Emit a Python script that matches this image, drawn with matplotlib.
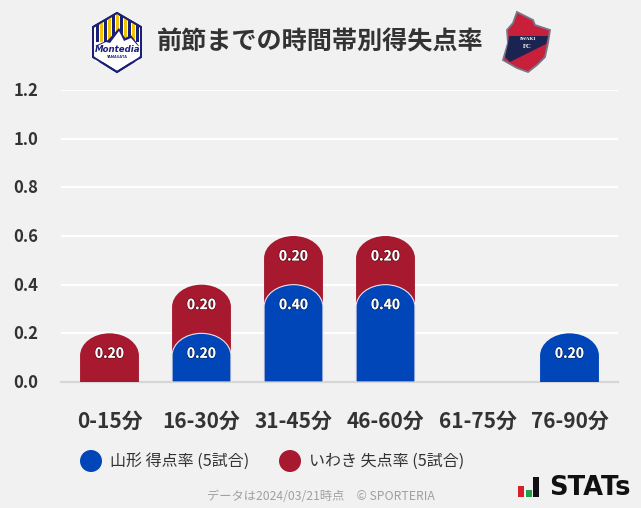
import matplotlib
matplotlib.use("Agg")
import matplotlib.pyplot as plt
import matplotlib.patheffects as pe
from matplotlib.path import Path
from matplotlib.patches import PathPatch, Polygon, Circle, Rectangle
from matplotlib.transforms import ScaledTranslation

plt.rcParams['font.family'] = ['Noto Sans CJK JP', 'DejaVu Sans']

categories = ['0-15分', '16-30分', '31-45分', '46-60分', '61-75分', '76-90分']
yamagata_rate = [0.0, 0.20, 0.40, 0.40, 0.0, 0.20]
iwaki_rate = [0.20, 0.20, 0.20, 0.20, 0.0, 0.0]
y_ticks = [0.0, 0.2, 0.4, 0.6, 0.8, 1.0, 1.2]
title = '前節までの時間帯別得失点率'
legend_labels = ['山形 得点率 (5試合)', 'いわき 失点率 (5試合)']
footer = 'データは2024/03/21時点　© SPORTERIA'

BLUE = '#0046b8'
RED = '#a6192e'
BG = '#f1f1f1'
DARK = '#333333'
W, H = 641, 508

fig = plt.figure(figsize=(W / 100, H / 100), dpi=100, facecolor=BG)
L, R, T, B = 61, 618, 90, 382
ax = fig.add_axes([L / W, 1 - B / H, (R - L) / W, (B - T) / H], facecolor=BG)
ax.set_xlim((L - 109.5) / 92, (R - 109.5) / 92)
ax.set_ylim(0, 1.2)
for s in ['top', 'left', 'right']:
    ax.spines[s].set_visible(False)
ax.spines['bottom'].set_color('#d6d6d6')
ax.spines['bottom'].set_linewidth(1.6)
ax.set_axisbelow(True)
ax.yaxis.grid(True, color='white', lw=1.6)
ax.xaxis.grid(False)
ax.set_yticks(y_ticks)
ax.set_yticklabels([f'{v:.1f}' for v in y_ticks], fontsize=12, fontweight='bold', color=DARK)
ax.set_xticks(range(len(categories)))
ax.set_xticklabels(categories, fontsize=15, fontweight='bold', color=DARK)
ax.tick_params(axis='both', length=0)
ax.tick_params(axis='y', pad=16.5)
ax.tick_params(axis='x', pad=21)
up = ScaledTranslation(0, 1 / 100, fig.dpi_scale_trans)
for t in ax.get_yticklabels():
    t.set_transform(t.get_transform() + up)


def dome(x, top, width=0.64, cap=0.092):
    """Bar from 0 to top with an elliptical rounded head."""
    hw = width / 2
    k = 0.5523
    verts = [(x - hw, 0), (x - hw, top - cap),
             (x - hw, top - cap + k * cap), (x - k * hw, top), (x, top),
             (x + k * hw, top), (x + hw, top - cap + k * cap), (x + hw, top - cap),
             (x + hw, 0), (x - hw, 0)]
    codes = [Path.MOVETO, Path.LINETO, Path.CURVE4, Path.CURVE4, Path.CURVE4,
             Path.CURVE4, Path.CURVE4, Path.CURVE4, Path.LINETO, Path.CLOSEPOLY]
    return Path(verts, codes)


shadow = [pe.withStroke(linewidth=1.2, foreground='#00000055')]
for i, (a, b) in enumerate(zip(yamagata_rate, iwaki_rate)):
    if b > 0:
        ax.add_patch(PathPatch(dome(i, a + b), fc=RED, ec='none', zorder=3))
        ax.text(i, a + b - 0.084, f'{b:.2f}', color='white', fontsize=10, fontweight='bold',
                ha='center', va='center', zorder=5, path_effects=shadow)
    if a > 0:
        ax.add_patch(PathPatch(dome(i, a), fc=BLUE,
                               ec='#e6e6ee' if b > 0 else 'none', lw=0.8, zorder=4))
        ax.text(i, a - 0.084, f'{a:.2f}', color='white', fontsize=10, fontweight='bold',
                ha='center', va='center', zorder=5, path_effects=shadow)

# overlay in pixel coordinates for title, legend, logos, footer
ov = fig.add_axes([0, 0, 1, 1], facecolor='none')
ov.set_xlim(0, W)
ov.set_ylim(H, 0)
ov.axis('off')

ov.text(320.5, 42, title, fontsize=18.1, fontweight='bold', color=DARK, ha='center', va='center')

ov.add_patch(Circle((91, 461), 11, fc=BLUE, ec='none'))
ov.add_patch(Circle((290, 461), 11, fc=RED, ec='none'))
ov.text(110, 461, legend_labels[0], fontsize=11.5, color=DARK, ha='left', va='center')
ov.text(309, 461, legend_labels[1], fontsize=11.5, color=DARK, ha='left', va='center')
ov.text(320.5, 497, footer, fontsize=8.8, color='#a0a0a0', ha='center', va='center')

# Montedio logo
NAVY = '#1a1f78'
hexa = [(117, 13), (141, 27), (141, 57), (117, 72), (93, 57), (93, 27)]
hexp = Polygon(hexa, closed=True, fc='white', ec=NAVY, lw=1.4, zorder=2)
ov.add_patch(hexp)
for k, x in enumerate(range(96, 139, 4)):
    st = Rectangle((x, 14), 3.0, 28, fc='#f2c400' if k % 2 else NAVY, ec='none', zorder=3)
    ov.add_patch(st)
    st.set_clip_path(hexp)
ov.add_patch(Polygon([(95, 46), (108, 40), (119, 28), (125, 38), (131, 35), (139, 46)],
                     closed=True, fc=NAVY, ec='none', zorder=4))
ov.add_patch(Polygon([(95, 47), (106, 42), (110, 43), (119, 31), (124, 41), (131, 38), (139, 47)],
                     closed=True, fc='white', ec='none', zorder=5))
ov.add_patch(Rectangle((95, 46), 44, 16, fc='white', ec='none', zorder=5))
ov.text(117.5, 50, 'Montedia', fontsize=6.2, style='italic', fontweight='bold', color=NAVY,
        family='DejaVu Sans', ha='center', va='center', zorder=6)
ov.text(117.5, 57, 'YAMAGATA', fontsize=2.8, fontweight='bold', color=NAVY, ha='center', va='center', zorder=6)
ov.add_patch(Polygon(hexa, closed=True, fc='none', ec=NAVY, lw=1.4, zorder=7))

# Iwaki logo
shield = [(517, 12), (525, 16), (533, 20), (535, 25), (550, 30), (548, 43), (545, 57),
          (537, 65), (528, 72), (517, 68), (503, 60), (508, 43), (507, 30), (513, 23)]
ov.add_patch(Polygon(shield, closed=True, fc='#c8203a', ec='#777788', lw=1.3, zorder=2))
ov.add_patch(Polygon([(509, 36), (548, 36), (546, 44), (510, 62), (505, 57), (508, 44)],
                     closed=True, fc='#1b2450', ec='none', zorder=3))
ov.text(528, 39.5, 'IWAKI', fontsize=3.8, fontweight='bold', family='Liberation Serif', color='white', ha='center', va='center', zorder=4)
ov.text(527, 46, 'FC', fontsize=4.8, fontweight='bold', family='Liberation Serif', color='white', ha='center', va='center', zorder=4)

# STATs logo
ov.add_patch(Rectangle((518, 486), 6, 11, fc='#d8202a', ec='none'))
ov.add_patch(Rectangle((526, 490), 6, 7, fc='#1fa24a', ec='none'))
ov.add_patch(Rectangle((533, 477), 6, 20, fc='#111111', ec='none'))
ov.text(549, 488, 'STATs', fontsize=18.5, fontweight='bold', family='DejaVu Sans', color='#111111',
        ha='left', va='center')

fig.savefig('out.png', dpi=100, facecolor=BG)
